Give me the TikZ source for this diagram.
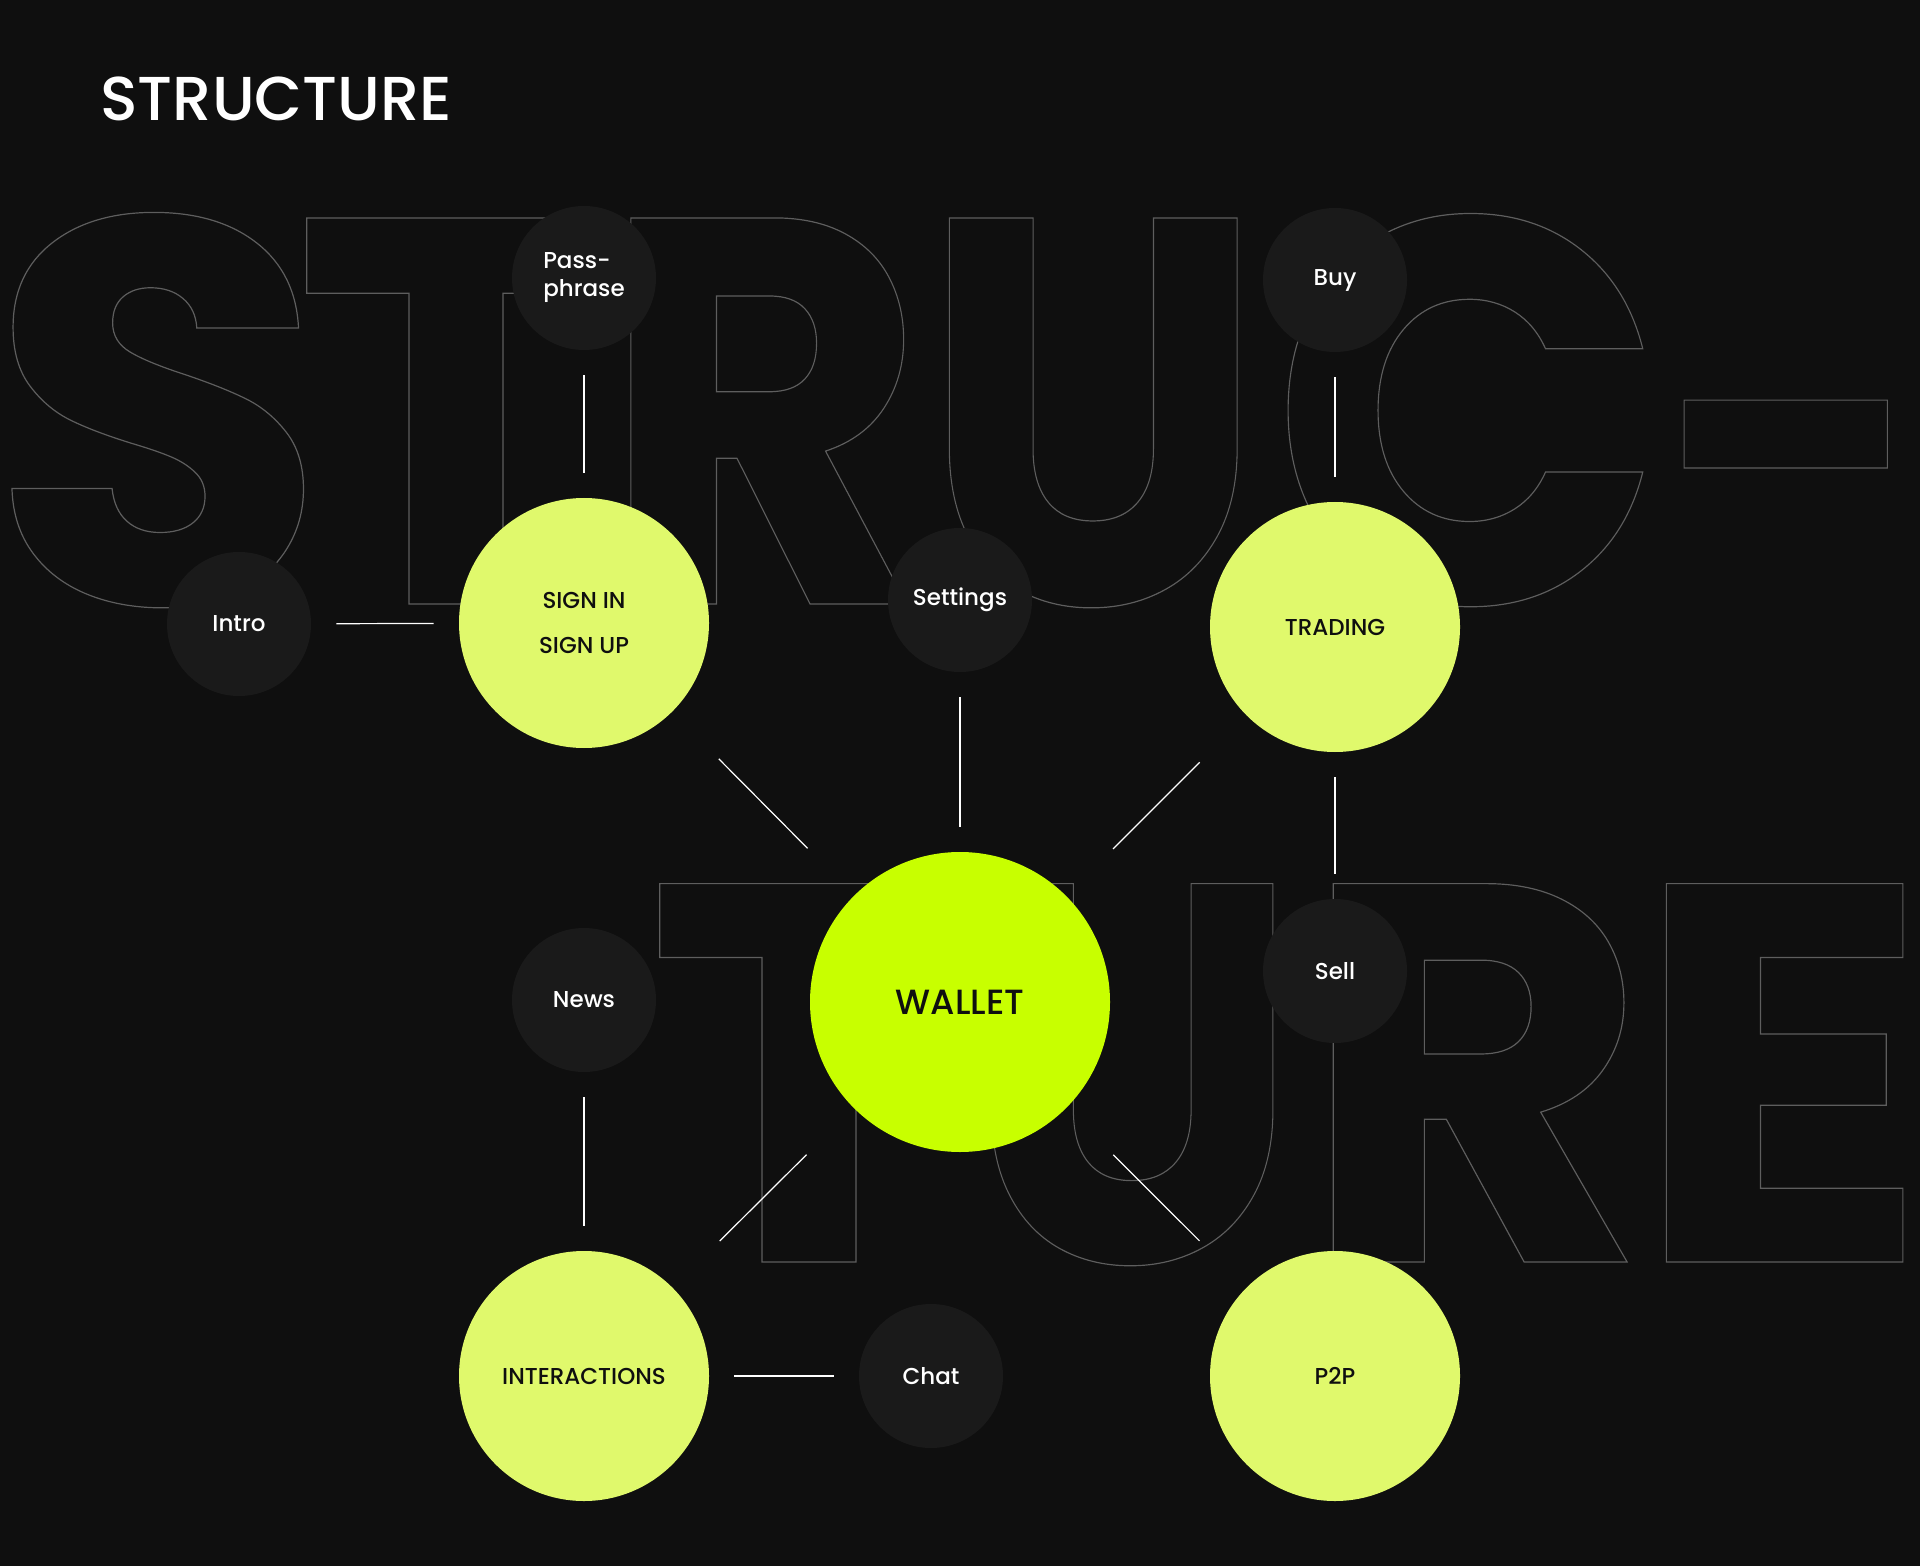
\documentclass[tikz,border=0pt]{standalone}
\usepackage{fontspec}
\setmainfont{Poppins}[FontFace={mb}{n}{Poppins Medium}]
\usetikzlibrary{positioning}

\definecolor{bgcol}{HTML}{0F0F0F}
\definecolor{darknode}{HTML}{1A1A1A}
\definecolor{limenode}{HTML}{E0F96C}
\definecolor{walletcol}{HTML}{C8FF00}
\definecolor{ghostcol}{HTML}{5E5E5E}

\newcommand{\ghosttext}[3]{\scalebox{#1}[#2]{\special{pdf:literal direct 1 Tr 0.6 w}#3\special{pdf:literal direct 0 Tr}}}

\begin{document}
\begin{tikzpicture}[x=0.5pt,y=-0.5pt,
  ghost/.style={anchor=base,inner sep=0pt,text=ghostcol,font=\fontsize{275}{275}\bfseries\selectfont},
  minor/.style={circle,fill=darknode,minimum size=72pt,inner sep=0pt,text=white,font=\fontsize{11.5}{14}\fontseries{mb}\selectfont},
  major/.style={circle,fill=limenode,minimum size=125pt,inner sep=0pt,text=bgcol,font=\fontsize{11.5}{22.5}\fontseries{mb}\selectfont},
  link/.style={draw=white,line width=0.6pt,shorten <=12.5pt,shorten >=12.5pt},
  spoke/.style={link,shorten <=33pt,shorten >=33pt}]
\fill[bgcol] (0,0) rectangle (1920,1566);
\useasboundingbox (0,0) rectangle (1920,1566);
\node[anchor=base west,inner sep=0pt,text=white,font=\fontsize{31}{31}\fontseries{mb}\selectfont] (title) at (100,121) {STRUCTURE};

\begin{scope}
\clip (0,0) rectangle (1920,1566);
\node[ghost] (g1) at (158,604) {\ghosttext{1}{1}{S}};
\node[ghost] (g2) at (456,604) {\ghosttext{1}{1}{T}};
\node[ghost] (g3) at (763,604) {\ghosttext{0.91}{1}{R}};
\node[ghost] (g4) at (1093,604) {\ghosttext{0.89}{1}{U}};
\node[ghost] (g5) at (1468,604) {\ghosttext{0.94}{1}{C}};
\node[ghost] (g6) at (1794,602) {\ghosttext{0.84}{0.87}{-}};
\node[ghost] (g7) at (809,1262) {\ghosttext{1}{0.98}{T}};
\node[ghost] (g8) at (1132,1262) {\ghosttext{0.87}{0.98}{U}};
\node[ghost] (g9) at (1474,1262) {\ghosttext{0.97}{0.98}{R}};
\node[ghost] (g10) at (1781,1262) {\ghosttext{1}{0.98}{E}};
\end{scope}

\node[minor,align=left] (pass) at (584,278) {Pass-\\phrase};
\node[minor] (buy) at (1335,280) {Buy};
\node[minor] (intro) at (239,624) {Intro};
\node[minor] (settings) at (960,600) {Settings};
\node[minor] (news) at (584,1000) {News};
\node[minor] (sell) at (1335,971) {Sell};
\node[minor] (chat) at (931,1376) {Chat};

\node[major,align=center] (sign) at (584,623) {SIGN IN\\SIGN UP};
\node[major] (trading) at (1335,627) {TRADING};
\node[major] (inter) at (584,1376) {INTERACTIONS};
\node[major] (p2p) at (1335,1376) {P2P};
\node[major,fill=walletcol,minimum size=150pt,font=\fontsize{17.5}{20}\fontseries{mb}\selectfont] (wallet) at (960,1002) {WALLET};

\draw[link] (pass) -- (sign);
\draw[link] (intro) -- (sign);
\draw[link] (settings) -- (wallet);
\draw[link] (buy) -- (trading);
\draw[link] (trading) -- (sell);
\draw[link] (news) -- (inter);
\draw[link] (inter) -- (chat);
\draw[spoke] (sign) -- (wallet);
\draw[spoke] (trading) -- (wallet);
\draw[spoke] (wallet) -- (inter);
\draw[spoke] (wallet) -- (p2p);
\end{tikzpicture}
\end{document}
